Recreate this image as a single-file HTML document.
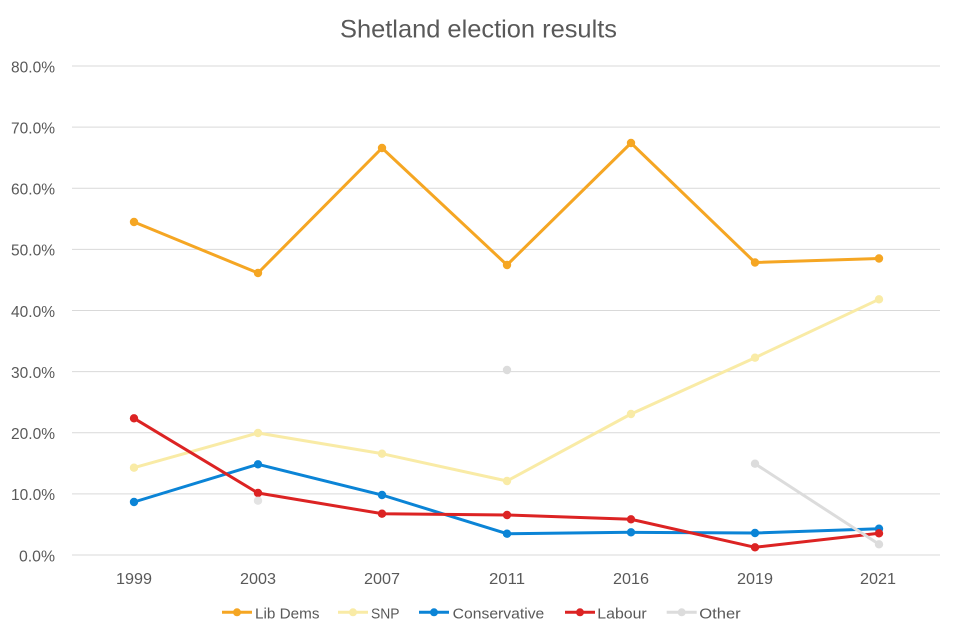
<!DOCTYPE html>
<html>
<head>
<meta charset="utf-8">
<style>
html,body{margin:0;padding:0;background:#fff;}
svg{display:block;}
text{font-family:"Liberation Sans",sans-serif;fill:#595959;}
</style>
</head>
<body>
<svg width="960" height="640" viewBox="0 0 960 640" xmlns="http://www.w3.org/2000/svg">
<rect width="960" height="640" fill="#fff"/>
<text x="340" y="37.5" font-size="25" textLength="277" lengthAdjust="spacingAndGlyphs">Shetland election results</text>

<g stroke="#D9D9D9" stroke-width="1">
<line x1="72" y1="66" x2="940" y2="66"/>
<line x1="72" y1="127.1" x2="940" y2="127.1"/>
<line x1="72" y1="188.3" x2="940" y2="188.3"/>
<line x1="72" y1="249.4" x2="940" y2="249.4"/>
<line x1="72" y1="310.5" x2="940" y2="310.5"/>
<line x1="72" y1="371.6" x2="940" y2="371.6"/>
<line x1="72" y1="432.8" x2="940" y2="432.8"/>
<line x1="72" y1="493.9" x2="940" y2="493.9"/>
<line x1="72" y1="555" x2="940" y2="555"/>
</g>

<g font-size="16">
<text x="11" y="72.3" textLength="44" lengthAdjust="spacingAndGlyphs">80.0%</text>
<text x="11" y="133.4" textLength="44" lengthAdjust="spacingAndGlyphs">70.0%</text>
<text x="11" y="194.6" textLength="44" lengthAdjust="spacingAndGlyphs">60.0%</text>
<text x="11" y="255.7" textLength="44" lengthAdjust="spacingAndGlyphs">50.0%</text>
<text x="11" y="316.8" textLength="44" lengthAdjust="spacingAndGlyphs">40.0%</text>
<text x="11" y="377.9" textLength="44" lengthAdjust="spacingAndGlyphs">30.0%</text>
<text x="11" y="439.1" textLength="44" lengthAdjust="spacingAndGlyphs">20.0%</text>
<text x="11" y="500.2" textLength="44" lengthAdjust="spacingAndGlyphs">10.0%</text>
<text x="19" y="561.3" textLength="36" lengthAdjust="spacingAndGlyphs">0.0%</text>
</g>

<g font-size="16">
<text x="116" y="584" textLength="36" lengthAdjust="spacingAndGlyphs">1999</text>
<text x="240" y="584" textLength="36" lengthAdjust="spacingAndGlyphs">2003</text>
<text x="364" y="584" textLength="36" lengthAdjust="spacingAndGlyphs">2007</text>
<text x="489" y="584" textLength="36" lengthAdjust="spacingAndGlyphs">2011</text>
<text x="613" y="584" textLength="36" lengthAdjust="spacingAndGlyphs">2016</text>
<text x="737" y="584" textLength="36" lengthAdjust="spacingAndGlyphs">2019</text>
<text x="860" y="584" textLength="36" lengthAdjust="spacingAndGlyphs">2021</text>
</g>

<!-- Lib Dems -->
<g stroke="#F5A623" fill="#F5A623">
<polyline fill="none" stroke-width="3" stroke-linejoin="round" points="134,222 258,273 382,148 507,265 631,143 755,262.5 879,258.5"/>
<circle cx="134" cy="222" r="4.2" stroke="none"/>
<circle cx="258" cy="273" r="4.2" stroke="none"/>
<circle cx="382" cy="148" r="4.2" stroke="none"/>
<circle cx="507" cy="265" r="4.2" stroke="none"/>
<circle cx="631" cy="143" r="4.2" stroke="none"/>
<circle cx="755" cy="262.5" r="4.2" stroke="none"/>
<circle cx="879" cy="258.5" r="4.2" stroke="none"/>
</g>

<!-- SNP -->
<g fill="#F9EBA6">
<polyline fill="none" stroke="#F9EBA6" stroke-width="3" stroke-linejoin="round" points="134,467.7 258,433 382,453.7 507,481 631,414 755,357.7 879,299.3"/>
<circle cx="134" cy="467.7" r="4.2"/>
<circle cx="258" cy="433" r="4.2"/>
<circle cx="382" cy="453.7" r="4.2"/>
<circle cx="507" cy="481" r="4.2"/>
<circle cx="631" cy="414" r="4.2"/>
<circle cx="755" cy="357.7" r="4.2"/>
<circle cx="879" cy="299.3" r="4.2"/>
</g>

<!-- Conservative -->
<g fill="#0B84D6">
<polyline fill="none" stroke="#0B84D6" stroke-width="3" stroke-linejoin="round" points="134,502 258,464.3 382,495 507,533.7 631,532.3 755,533 879,528.7"/>
<circle cx="134" cy="502" r="4.2"/>
<circle cx="258" cy="464.3" r="4.2"/>
<circle cx="382" cy="495" r="4.2"/>
<circle cx="507" cy="533.7" r="4.2"/>
<circle cx="631" cy="532.3" r="4.2"/>
<circle cx="755" cy="533" r="4.2"/>
<circle cx="879" cy="528.7" r="4.2"/>
</g>

<!-- Labour -->
<g fill="#DC2323">
<polyline fill="none" stroke="#DC2323" stroke-width="3" stroke-linejoin="round" points="134,418.3 258,493 382,513.7 507,515 631,519.3 755,547.3 879,533.3"/>
<circle cx="134" cy="418.3" r="4.2"/>
<circle cx="258" cy="493" r="4.2"/>
<circle cx="382" cy="513.7" r="4.2"/>
<circle cx="507" cy="515" r="4.2"/>
<circle cx="631" cy="519.3" r="4.2"/>
<circle cx="755" cy="547.3" r="4.2"/>
<circle cx="879" cy="533.3" r="4.2"/>
</g>

<!-- Other -->
<g fill="#DCDCDC">
<polyline fill="none" stroke="#DCDCDC" stroke-width="3" points="755,463.7 879,544.3"/>
<circle cx="258" cy="500.7" r="4.2" opacity="0.8"/>
<circle cx="507" cy="370" r="4.2"/>
<circle cx="755" cy="463.7" r="4.2"/>
<circle cx="879" cy="544.3" r="4.2"/>
</g>

<!-- Legend -->
<g font-size="15">
<line x1="222" y1="612.3" x2="252" y2="612.3" stroke="#F5A623" stroke-width="3"/>
<circle cx="237" cy="612.3" r="4" fill="#F5A623"/>
<text x="255" y="618.3" textLength="64.5" lengthAdjust="spacingAndGlyphs">Lib Dems</text>

<line x1="338" y1="612.3" x2="368" y2="612.3" stroke="#F9EBA6" stroke-width="3"/>
<circle cx="353" cy="612.3" r="4" fill="#F9EBA6"/>
<text x="371" y="618.3" textLength="28.5" lengthAdjust="spacingAndGlyphs">SNP</text>

<line x1="419" y1="612.3" x2="449" y2="612.3" stroke="#0B84D6" stroke-width="3"/>
<circle cx="434" cy="612.3" r="4" fill="#0B84D6"/>
<text x="452.7" y="618.3" textLength="91.6" lengthAdjust="spacingAndGlyphs">Conservative</text>

<line x1="565" y1="612.3" x2="595" y2="612.3" stroke="#DC2323" stroke-width="3"/>
<circle cx="580" cy="612.3" r="4" fill="#DC2323"/>
<text x="597.3" y="618.3" textLength="49.4" lengthAdjust="spacingAndGlyphs">Labour</text>

<line x1="666.7" y1="612.3" x2="696.7" y2="612.3" stroke="#DCDCDC" stroke-width="3"/>
<circle cx="681.7" cy="612.3" r="4" fill="#DCDCDC"/>
<text x="699.3" y="618.3" textLength="41.4" lengthAdjust="spacingAndGlyphs">Other</text>
</g>
</svg>
</body>
</html>
